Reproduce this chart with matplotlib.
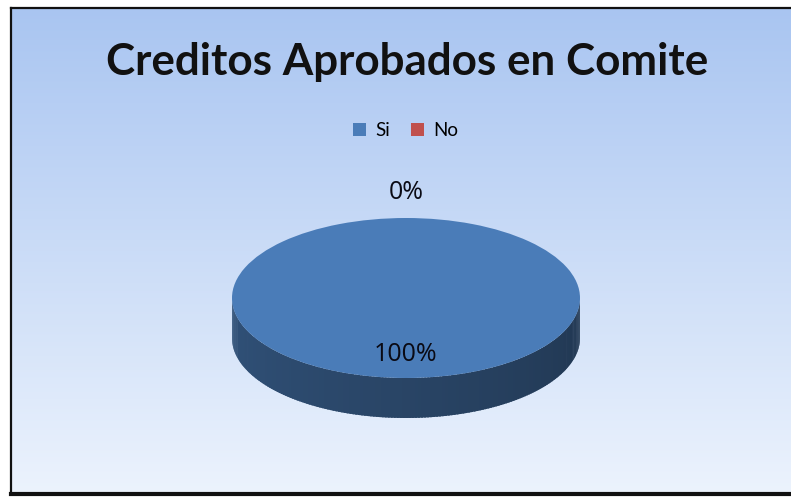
import numpy as np
import matplotlib.pyplot as plt
import matplotlib.colors as mcolors
from matplotlib.patches import Polygon, Patch

# data
labels = ["Si", "No"]
values = [100, 0]
colors = ["#4a7cb8", "#c0504d"]
pct_labels = ["100%", "0%"]
title = "Creditos Aprobados en Comite"

W, H = 791, 499


def fx(px):
    return px / W


def fy(py):
    return 1 - py / H


def shade(color, f):
    r, g, b = mcolors.to_rgb(color)
    return (r * f, g * f, b * f)


def main():
    fig = plt.figure(figsize=(W / 100, H / 100), dpi=100)
    fig.patch.set_facecolor("white")

    # framed chart area with vertical gradient (runs off the right edge)
    bg = fig.add_axes([fx(11), fy(494), fx(W - 11), 486 / H])
    top = np.array(mcolors.to_rgb("#a9c5f1"))
    bot = np.array(mcolors.to_rgb("#ecf3fd"))
    t = np.linspace(0, 1, 256)[:, None]
    grad = top + (bot - top) * t
    bg.imshow(grad[:, None, :], aspect="auto", extent=[0, 1, 0, 1])
    bg.set_xticks([])
    bg.set_yticks([])
    for s in bg.spines.values():
        s.set_linewidth(1.6)
        s.set_color("#111111")
    bg.spines["right"].set_visible(False)
    bg.spines["bottom"].set_linewidth(3)

    # pie: 1 data unit = 174 px horizontally, 80 px vertically
    rx, ry = 174, 80
    cx, cy = 406, 298
    xlim = (-1.2, 1.2)
    ylim = (-1.7, 1.6)
    ax = fig.add_axes([fx(cx + xlim[0] * rx), fy(cy - ylim[0] * ry),
                       (xlim[1] - xlim[0]) * rx / W, (ylim[1] - ylim[0]) * ry / H])
    depth = 0.5

    ax.pie(values, colors=colors, startangle=90, counterclock=False,
           radius=1, wedgeprops=dict(linewidth=0, zorder=3))

    # side of the 3D disc, drawn in thin strips along the front half
    frac = np.cumsum(values) / np.sum(values)
    angles = np.linspace(180, 360, 181)
    for a0, a1 in zip(angles[:-1], angles[1:]):
        am = np.radians((a0 + a1) / 2)
        pos = ((90 - np.degrees(am)) % 360) / 360  # clockwise from 12 o'clock
        idx = int(np.searchsorted(frac, pos, side="right"))
        idx = min(idx, len(values) - 1)
        f = 0.66 - 0.22 * (a0 - 180) / 180
        c = shade(colors[idx], f)
        t0, t1 = np.radians(a0), np.radians(a1 + 0.6)
        pts = [(np.cos(t0), np.sin(t0)), (np.cos(t1), np.sin(t1)),
               (np.cos(t1), np.sin(t1) - depth), (np.cos(t0), np.sin(t0) - depth)]
        ax.add_patch(Polygon(pts, closed=True, facecolor=c, edgecolor="none", zorder=1))

    # percent labels at wedge mid-angles
    start = 0.0
    total = float(np.sum(values))
    for v, lab in zip(values, pct_labels):
        mid = start + v / total / 2
        ang = np.radians(90 - mid * 360)
        r = 0.71 if v > 0 else 1.32
        ax.text(r * np.cos(ang), r * np.sin(ang), lab, ha="center", va="center",
                fontsize=18, color="#0a0a14", zorder=5, family="Open Sans")
        start += v / total

    ax.set_aspect("auto")
    ax.set_xlim(*xlim)
    ax.set_ylim(*ylim)
    ax.axis("off")

    fig.text(fx(407), fy(75), title, ha="center", va="baseline", fontsize=31.7,
             fontweight="bold", family="Lato", color="#111111")

    handles = [Patch(facecolor=c, edgecolor="none") for c in colors]
    fig.legend(handles, labels, loc="center", bbox_to_anchor=(fx(406), fy(131)), ncol=2,
               frameon=False, handlelength=0.7, handleheight=0.7,
               handletextpad=0.5, columnspacing=1.1,
               prop=dict(family="Lato", size=13.5))

    fig.savefig("out.png", dpi=100)


if __name__ == "__main__":
    main()
